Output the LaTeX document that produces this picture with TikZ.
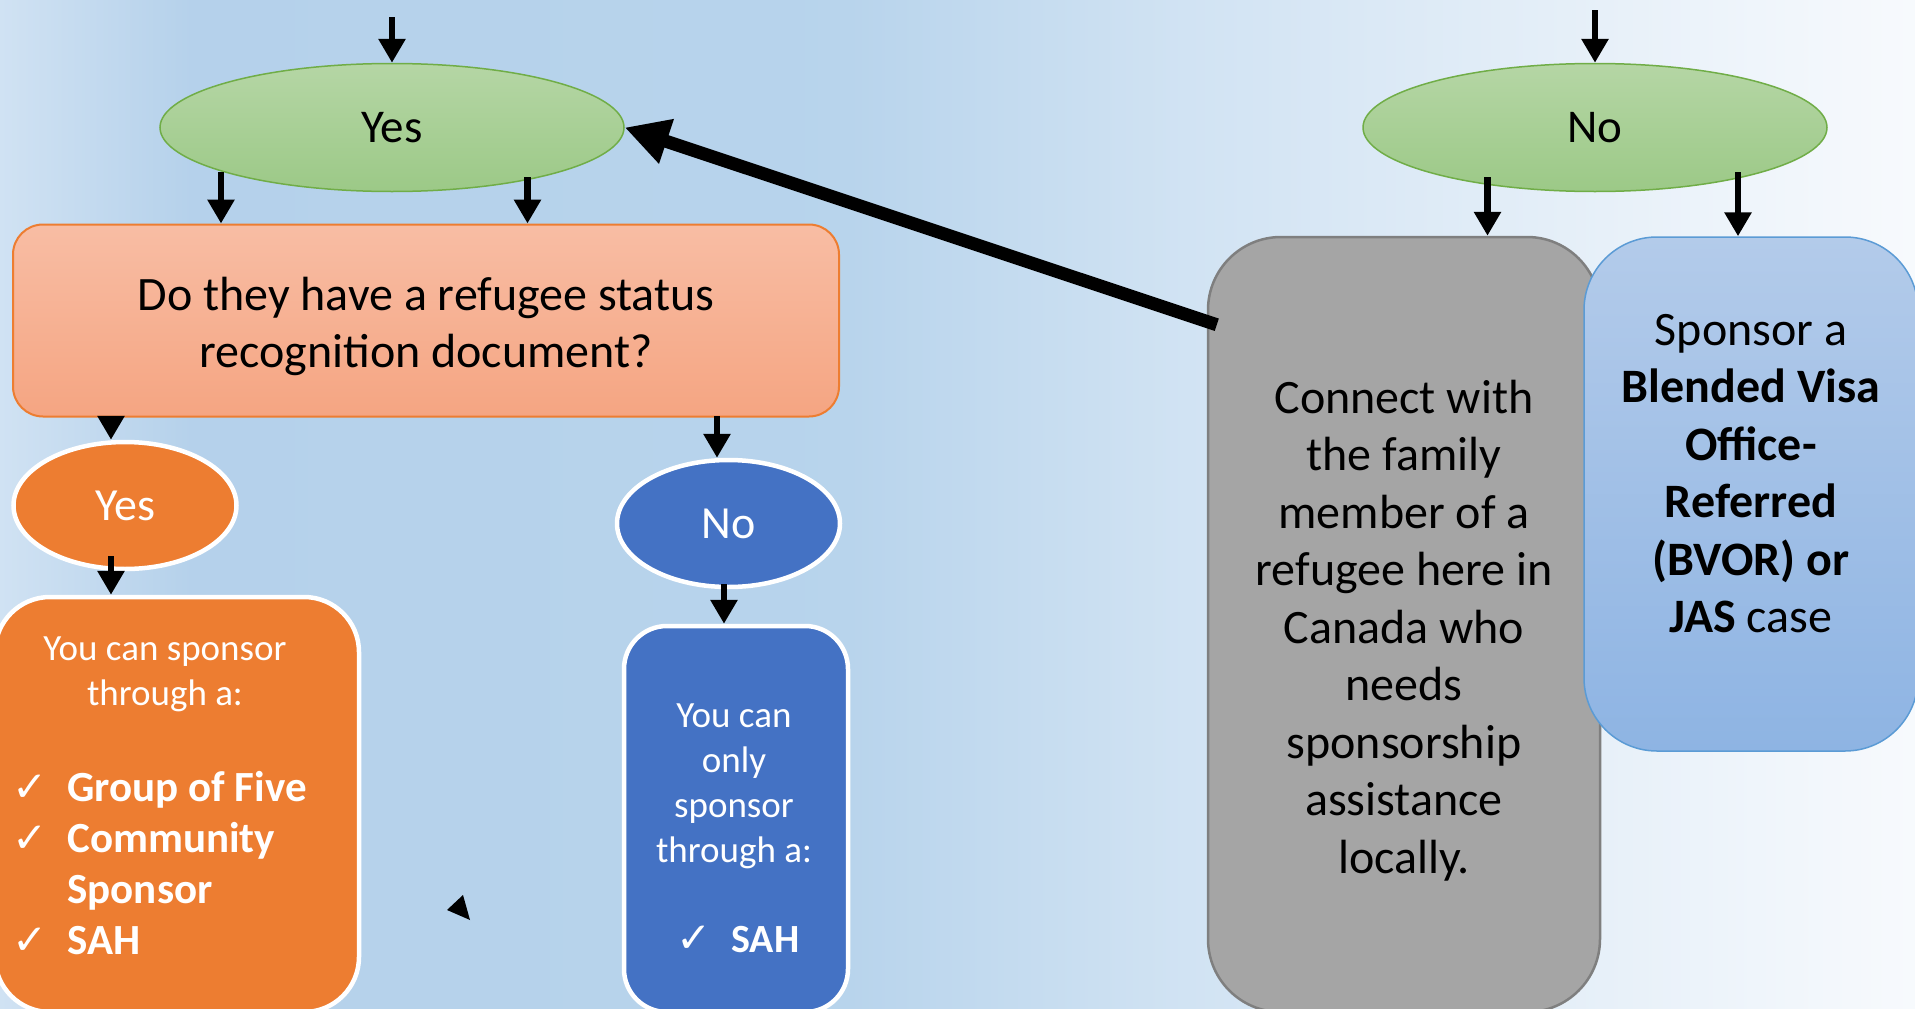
\documentclass[tikz,border=0pt]{standalone}
\usepackage{fontspec}
\setmainfont{Carlito}
\newfontfamily\symfont{DejaVu Sans}
\usetikzlibrary{arrows.meta,shapes.geometric}

\newcommand{\fsz}[2]{\fontsize{#1}{#2}\selectfont}
\newcommand{\chk}{{\symfont\fsz{42}{48}✓}}

\definecolor{greenTop}{HTML}{B5D6A5}
\definecolor{greenBot}{HTML}{9CC987}
\definecolor{greenLine}{HTML}{70AD47}
\definecolor{salmonTop}{HTML}{F8BDA4}
\definecolor{salmonBot}{HTML}{F5A582}
\definecolor{orangeMain}{HTML}{ED7D31}
\definecolor{blueMain}{HTML}{4472C4}
\definecolor{grayMain}{HTML}{A5A5A5}
\definecolor{grayLine}{HTML}{7F7F7F}
\definecolor{skyTop}{HTML}{B3CBEA}
\definecolor{skyBot}{HTML}{8EB4E3}
\definecolor{skyLine}{HTML}{5B9BD5}

\pgfdeclarehorizontalshading{backfade}{100bp}{rgb(0bp)=(0.816,0.886,0.953); rgb(25bp)=(0.816,0.886,0.953); rgb(30bp)=(0.71,0.82,0.92); rgb(47bp)=(0.72,0.83,0.925); rgb(56bp)=(0.82,0.89,0.953); rgb(75bp)=(0.97,0.98,0.992); rgb(100bp)=(0.97,0.98,0.992)}

\begin{document}
\begin{tikzpicture}[x=1pt,y=-1pt,
	arr/.style={line width=6.5pt,-{Triangle[width=26pt,length=24pt]}},
	bigarr/.style={line width=13pt,-{Triangle[width=44pt,length=44pt]}},
	greenoval/.style={ellipse,draw=greenLine,line width=1.5pt,top color=greenTop,bottom color=greenBot,
		minimum width=464pt,minimum height=128pt,inner sep=0pt,font=\fsz{47}{56}},
	oval/.style={ellipse,draw=white,line width=4.5pt,minimum width=223pt,minimum height=127pt,
		inner sep=0pt,text=white,font=\fsz{46}{55}},
	qbox/.style={rectangle,rounded corners=30pt,draw=orangeMain,line width=2pt,top color=salmonTop,
		bottom color=salmonBot,minimum width=826pt,minimum height=192pt},
	tallbox/.style={rectangle,draw=white,line width=4.5pt,inner sep=0pt},
	wtext/.style={text=white,inner sep=0pt,align=center},
	btext/.style={inner sep=0pt,align=center,font=\fsz{48}{57.5}},
	graybox/.style={rectangle,rounded corners=73pt,draw=grayLine,line width=2.5pt,fill=grayMain,
		minimum width=392pt,minimum height=775pt},
	skybox/.style={rectangle,rounded corners=73pt,draw=skyLine,line width=1.5pt,top color=skyTop,
		bottom color=skyBot,minimum width=334pt,minimum height=514pt}]
	
	\useasboundingbox (0,0) rectangle (1915,1009);
	\clip (0,0) rectangle (1915,1009);
	\shade[shading=backfade] (0,0) rectangle (1915,1009);
	
	% top row
	\node[greenoval] (yesTop) at (392,127.5) {Yes};
	\node[greenoval] (noTop) at (1595,127.5) {No};
	\coordinate (inYes) at (392,17);
	\coordinate (inNo) at (1595,10);
	\draw[arr] (inYes) -- (yesTop.north);
	\draw[arr] (inNo) -- (noTop.north);
	
	% left branch
	\node[qbox] (question) at (426,320.5) {};
	\node[btext] (questionText) at (426,326.5) {Do they have a refugee status\\recognition document?};
	\coordinate (yesL) at (221,172);
	\coordinate (yesR) at (527.5,177);
	\draw[arr] (yesL) -- (yesL |- question.north);
	\draw[arr] (yesR) -- (yesR |- question.north);
	
	\node[oval,fill=orangeMain] (yesDoc) at (125,505.5) {Yes};
	\node[oval,fill=blueMain] (noDoc) at (728.5,523.5) {No};
	\coordinate (qL) at (111,416);
	\coordinate (qR) at (717,416);
	\draw[arr] (qL) -- (qL |- yesDoc.north);
	\draw[arr] (qR) -- (qR |- noDoc.north);
	
	\node[tallbox,fill=orangeMain,rounded corners=55pt,minimum width=364pt,minimum height=415pt] (canA) at (177,804.5) {};
	\coordinate (yesDocOut) at (111,556);
	\draw[arr] (yesDocOut) -- (yesDocOut |- canA.north);
	\node[wtext,font=\fsz{37}{45}] (canAhead) at (165,674) {You can sponsor\\through a:};
	\node[wtext,anchor=base west,font=\fsz{43}{51}\bfseries] (canAlist) at (12,801)
		{\begin{tabular}[t]{@{}l@{\hspace{20pt}}l@{}}\chk & Group of Five\\ \chk & Community\\ & Sponsor\\ \chk & SAH\end{tabular}};
	
	\node[tallbox,fill=blueMain,rounded corners=43pt,minimum width=224pt,minimum height=386pt] (canB) at (736,819) {};
	\coordinate (noDocOut) at (724,584);
	\draw[arr] (noDocOut) -- (noDocOut |- canB.north);
	\node[wtext,font=\fsz{37}{45}] (canBhead) at (734,786) {You can\\only\\sponsor\\through a:};
	\node[wtext,anchor=base west,font=\fsz{40}{51}\bfseries] (canBlist) at (676,952) {\chk\hspace{20pt}SAH};
	
	\fill (447,910) -- (463,895) -- (470,920) -- cycle;
	
	% right branch
	\node[graybox] (helpBox) at (1404,624.5) {};
	\node[btext] (helpText) at (1404,630.5) {Connect with\\the family\\member of a\\refugee here in\\Canada who\\needs\\sponsorship\\assistance\\locally.};
	\node[skybox] (bvorBox) at (1751,494) {};
	\node[btext] (bvorText) at (1751,473.5)
		{Sponsor a\\\textbf{Blended Visa}\\\textbf{Office-}\\\textbf{Referred}\\\textbf{(BVOR) or}\\\textbf{JAS} case};
	\coordinate (noL) at (1487.5,177);
	\coordinate (noR) at (1738,172);
	\draw[arr] (noL) -- (noL |- helpBox.north);
	\draw[arr] (noR) -- (noR |- bvorBox.north);
	
	\draw[bigarr] ([xshift=10pt,yshift=-89pt]helpBox.north west) -- (yesTop.east);
	
\end{tikzpicture}
\end{document}
